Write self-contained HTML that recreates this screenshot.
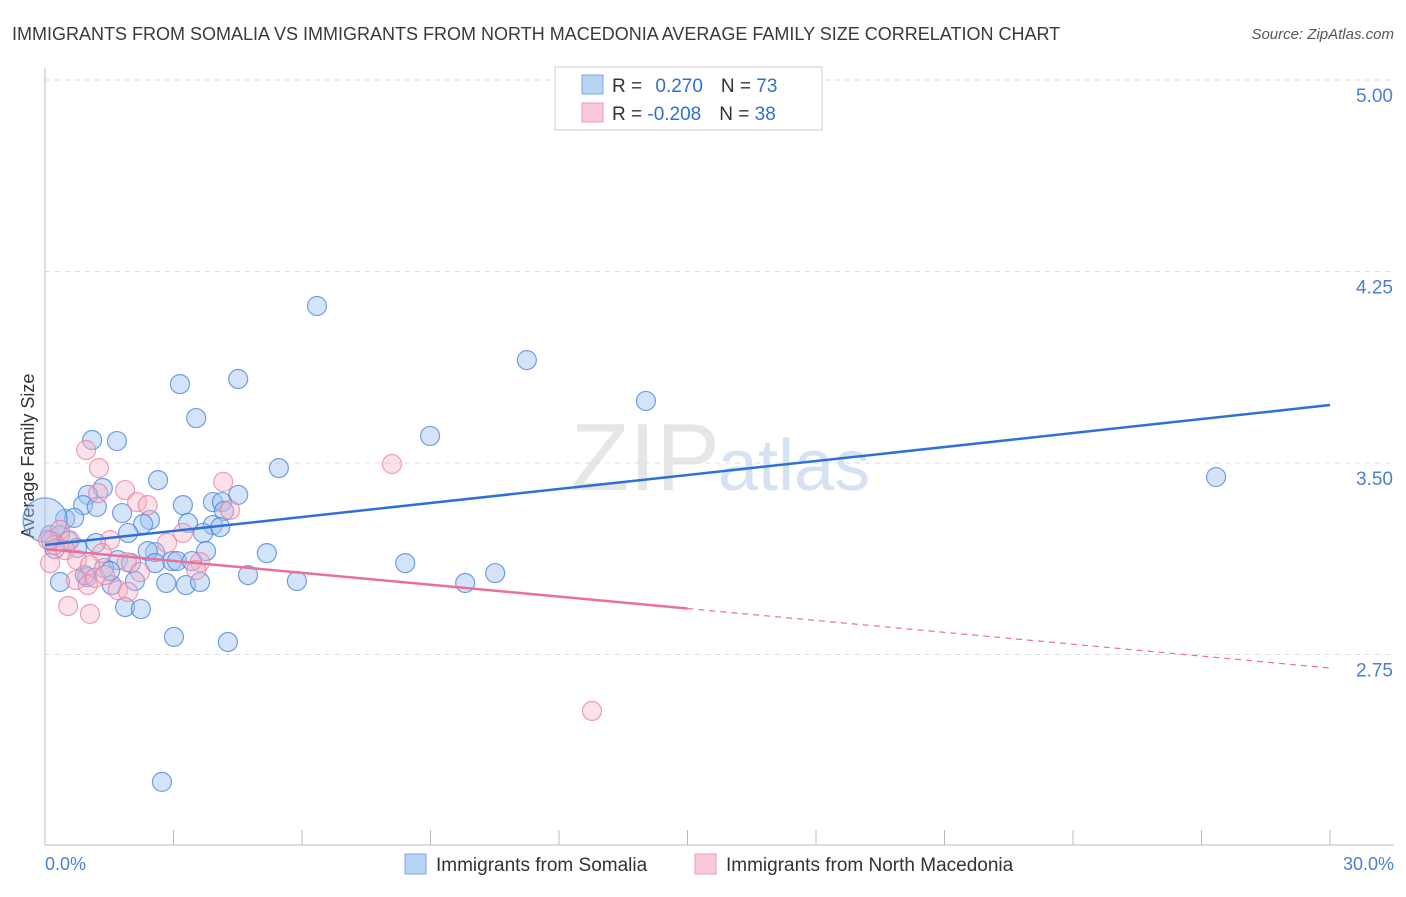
<!DOCTYPE html>
<html><head><meta charset="utf-8"><style>
body{margin:0;background:#fff;font-family:"Liberation Sans",sans-serif;}
svg text{font-family:"Liberation Sans",sans-serif;}
</style></head><body>
<svg width="1406" height="892" viewBox="0 0 1406 892">
<text x="12" y="40" font-size="18" fill="#3a3a3a">IMMIGRANTS FROM SOMALIA VS IMMIGRANTS FROM NORTH MACEDONIA AVERAGE FAMILY SIZE CORRELATION CHART</text>
<text x="1394" y="39" font-size="15" fill="#555" text-anchor="end" font-style="italic">Source: ZipAtlas.com</text>
<text x="720" y="490" font-size="96" fill="#e6e6e6" text-anchor="end" font-family="Liberation Serif">ZIP</text>
<text x="718" y="490" font-size="72" fill="#d5e2f3">atlas</text>
<g id="grid"></g>
<line x1="45" y1="68" x2="45" y2="845" stroke="#bbb"/>
<line x1="45" y1="845" x2="1394" y2="845" stroke="#bbb"/>
<g id="xticks"></g>
<text x="45" y="870" font-size="18" fill="#4a7fd8">0.0%</text>
<text x="1394" y="870" font-size="18" fill="#4a7fd8" text-anchor="end">30.0%</text>
<text transform="translate(34,456) rotate(-90)" font-size="18" fill="#333" text-anchor="middle">Average Family Size</text>
<g id="pts"></g>
<g id="lines"></g>
<g>
<rect x="555" y="67" width="267" height="63" fill="#fff" stroke="#ccc"/>
<rect x="582" y="75" width="21" height="19" fill="#b9d3f5" stroke="#7aa6e6"/>
<rect x="582" y="103" width="21" height="19" fill="#f9c9d7" stroke="#ee9ab3"/>
<text x="612" y="92" font-size="19" fill="#333">R = <tspan fill="#2f6fd8" dx="8">0.270</tspan><tspan fill="#333" dx="18">N = </tspan><tspan fill="#2f6fd8">73</tspan></text>
<text x="612" y="120" font-size="19" fill="#333">R = <tspan fill="#2f6fd8">-0.208</tspan><tspan fill="#333" dx="18">N = </tspan><tspan fill="#2f6fd8">38</tspan></text>
</g>
<g>
<rect x="405" y="854" width="21" height="20" fill="#b9d3f5" stroke="#7aa6e6"/>
<text x="436" y="871" font-size="19" fill="#333">Immigrants from Somalia</text>
<rect x="695" y="854" width="21" height="20" fill="#f9c9d7" stroke="#ee9ab3"/>
<text x="726" y="871" font-size="19" fill="#333">Immigrants from North Macedonia</text>
</g>
</svg>
<script>
const yTicks=[5.00,4.25,3.50,2.75];
const blueX=[6.35,11.25,14.03,3.15,4.51,3.53,8.99,1.10,1.68,5.46,2.64,27.34,1.35,1.00,4.51,3.22,3.92,4.13,0.89,1.21,1.80,2.45,2.29,0.47,0.68,3.34,4.18,3.92,4.09,1.94,3.69,0.12,0.35,0.54,1.19,0.75,2.57,2.40,3.76,5.18,1.70,2.01,2.57,2.97,3.08,3.43,8.41,1.38,0.98,1.56,2.10,2.83,3.29,3.62,4.74,5.88,9.81,10.51,0.35,1.87,2.24,3.01,4.27,2.73,0.93,1.52,0.14,0.23,0.0];
const blueY=[4.115,3.903,3.743,3.809,3.829,3.676,3.606,3.590,3.586,3.480,3.433,3.445,3.402,3.375,3.375,3.335,3.347,3.347,3.335,3.328,3.304,3.277,3.261,3.281,3.285,3.265,3.312,3.257,3.249,3.226,3.226,3.218,3.218,3.195,3.187,3.167,3.151,3.155,3.155,3.147,3.120,3.108,3.108,3.116,3.116,3.116,3.108,3.089,3.053,3.022,3.038,3.030,3.022,3.034,3.061,3.038,3.030,3.069,3.034,2.936,2.928,2.819,2.799,2.251,3.061,3.077,3.195,3.163,3.277];
const pinkX=[0.96,1.26,1.87,2.15,2.40,4.16,8.10,4.32,1.24,0.35,0.58,0.23,0.47,1.52,2.85,3.22,1.33,0.75,1.05,1.91,0.12,3.62,3.53,2.22,0.72,1.00,1.70,1.94,0.54,1.05,12.77,0.07,1.17,1.40];
const pinkY=[3.551,3.480,3.394,3.347,3.335,3.426,3.496,3.316,3.382,3.238,3.198,3.179,3.159,3.198,3.187,3.226,3.147,3.120,3.100,3.112,3.108,3.112,3.081,3.073,3.042,3.022,3.002,2.995,2.940,2.909,2.529,3.198,3.050,3.061];
const blueTrend=[3.179,3.727];
const pinkTrend=[3.163,2.697];
const X=v=>45+v/30*1285, Y=v=>80+(5-v)/0.75*191.5;
const NS='http://www.w3.org/2000/svg';
function mk(tag,attrs,parent){const e=document.createElementNS(NS,tag);for(const k in attrs)e.setAttribute(k,attrs[k]);document.getElementById(parent).appendChild(e);return e;}
yTicks.forEach(t=>{
 const l=mk('line',{x1:45,x2:1394,y1:Y(t),y2:Y(t),stroke:'#ddd','stroke-dasharray':'5,5'},'grid');
 
 
 const tx=mk('text',{x:1393,y:Y(t)+22,'font-size':19,fill:'#4a7fd8','text-anchor':'end'},'grid');
 tx.textContent=t.toFixed(2);
 
 
});
for(let i=0;i<=10;i++){
 const l=mk('line',{x1:X(i*3),x2:X(i*3),y1:830,y2:845,stroke:'#bbb'},'xticks');
 
 
}
blueX.forEach((x,i)=>{
 const r=(x===0)?22:9.5;
 const c=mk('circle',{cx:X(x),cy:Y(blueY[i]),r:r,fill:'rgba(160,195,240,0.45)',stroke:'rgba(70,130,220,0.75)','stroke-width':1.2},'pts');
 
 
});
pinkX.forEach((x,i)=>{
 const c=mk('circle',{cx:X(x),cy:Y(pinkY[i]),r:9.5,fill:'rgba(245,180,200,0.4)',stroke:'rgba(235,120,155,0.7)','stroke-width':1.2},'pts');
 
 
});
const bl=mk('line',{x1:X(0),y1:Y(blueTrend[0]),x2:X(30),y2:Y(blueTrend[1]),stroke:'#2f6fd8','stroke-width':2.5},'lines');


const pm=pinkTrend[0]+(pinkTrend[1]-pinkTrend[0])*(15/30);
const pl=mk('line',{x1:X(0),y1:Y(pinkTrend[0]),x2:X(15),y2:Y(pm),stroke:'#e8709a','stroke-width':2.5},'lines');


const pd=mk('line',{x1:X(15),y1:Y(pm),x2:X(30),y2:Y(pinkTrend[1]),stroke:'#e8709a','stroke-width':1.2,'stroke-dasharray':'6,5'},'lines');


</script>
</body></html>
